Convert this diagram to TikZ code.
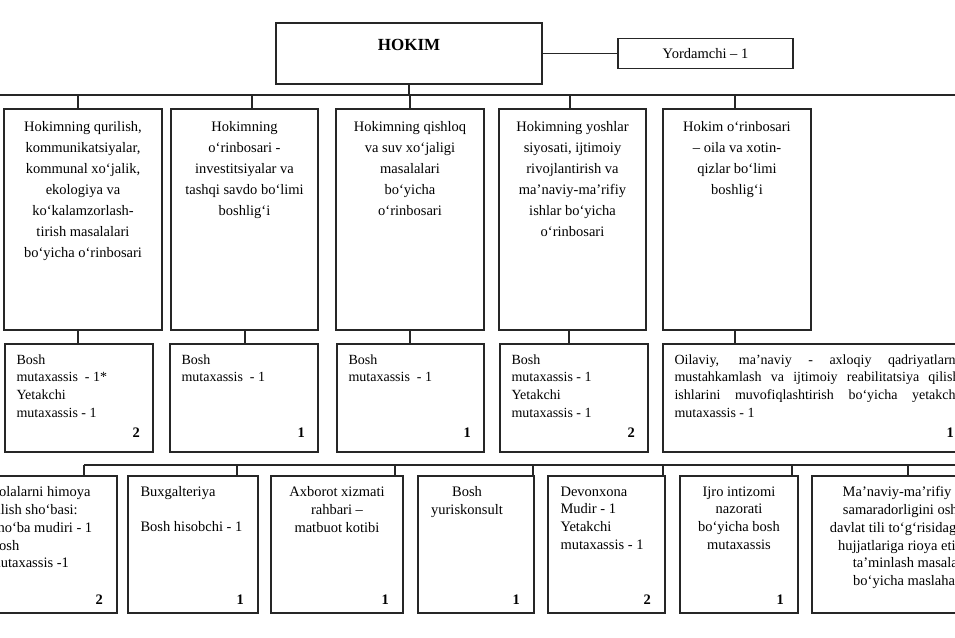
\documentclass[tikz,border=0pt]{standalone}
\usepackage{fontspec}
\setmainfont{Liberation Serif}
\usetikzlibrary{positioning}
\definecolor{lineGray}{RGB}{38,38,38}

\begin{document}
\begin{tikzpicture}[
    x=1pt, y=-1pt,
    box/.style={
        draw=lineGray,
        line width=1.2pt,
        outer sep=0pt
    },
    chief/.style={box, minimum width=266pt, minimum height=61pt},
    helper/.style={box, minimum width=175pt, minimum height=30pt,
        font=\fontsize{14.5}{17}\selectfont},
    deputy/.style={box, minimum width=#1, minimum height=221pt},
    staff/.style={box, minimum width=#1, minimum height=108pt},
    office/.style={box, minimum width=#1, minimum height=137pt},
    deptxt/.style={align=center, font=\fontsize{14.5}{21}\selectfont},
    stafftxt/.style={align=left, font=\fontsize{14}{17.7}\selectfont},
    offtxt/.style={align=center, font=\fontsize{14.5}{17.8}\selectfont},
    offtxtL/.style={align=left, font=\fontsize{14.5}{17.8}\selectfont},
    nr/.style={inner sep=0pt, font=\fontsize{14.5}{17}\selectfont\bfseries},
    link/.style={draw=lineGray, line width=1.2pt}
]
    \useasboundingbox (0,0) rectangle (955,637);
    \clip (0,0) rectangle (955,637);

    % ---------------------------------------------------------
    % TOP: HOKIM AND ASSISTANT
    % ---------------------------------------------------------
    \node[chief] (hokim) at (409,53.5) {};
    \node[below=13pt of hokim.north, font=\fontsize{17}{20}\selectfont\bfseries] (hokimT) {HOKIM};
    \node[helper, right=76pt of hokim] (yordamchi) {Yordamchi – 1};

    \coordinate (busW) at (-5,95);
    \coordinate (busE) at (965,95);

    % ---------------------------------------------------------
    % DEPUTIES
    % ---------------------------------------------------------
    \node[deputy=158pt] (qurilish) at (83,219.5) {};
    \node[deputy=147pt, right=9pt of qurilish] (investitsiya) {};
    \node[deputy=148pt, right=18pt of investitsiya] (qishloq) {};
    \node[deputy=147pt, right=15pt of qishloq] (yoshlar) {};
    \node[deputy=148pt, right=17pt of yoshlar] (oila) {};

    \node[deptxt, below=9pt of qurilish.north] (qurilishT) {Hokimning qurilish,\\kommunikatsiyalar,\\kommunal xo‘jalik,\\ekologiya va\\ko‘kalamzorlash-\\tirish masalalari\\bo‘yicha o‘rinbosari};
    \node[deptxt, below=9pt of investitsiya.north] (investitsiyaT) {Hokimning\\o‘rinbosari -\\investitsiyalar va\\tashqi savdo bo‘limi\\boshlig‘i};
    \node[deptxt, below=9pt of qishloq.north] (qishloqT) {Hokimning qishloq\\va suv xo‘jaligi\\masalalari\\bo‘yicha\\o‘rinbosari};
    \node[deptxt, below=9pt of yoshlar.north] (yoshlarT) {Hokimning yoshlar\\siyosati, ijtimoiy\\rivojlantirish va\\ma’naviy-ma’rifiy\\ishlar bo‘yicha\\o‘rinbosari};
    \node[deptxt, below=9pt of oila.north] (oilaT) {Hokim o‘rinbosari\\– oila va xotin-\\qizlar bo‘limi\\boshlig‘i};

    % ---------------------------------------------------------
    % STAFF UNDER THE DEPUTIES
    % ---------------------------------------------------------
    \node[staff=148pt] (qurilishS) at (79,398) {};
    \node[staff=148pt, right=17pt of qurilishS] (investitsiyaS) {};
    \node[staff=147pt, right=19pt of investitsiyaS] (qishloqS) {};
    \node[staff=148pt, right=16pt of qishloqS] (yoshlarS) {};
    \node[staff=305pt, right=15pt of yoshlarS] (oilaS) {};

    \node[stafftxt, below right=7pt and 8pt of qurilishS.north west] (qurilishST) {Bosh\\mutaxassis~ - 1*\\Yetakchi\\mutaxassis - 1};
    \node[stafftxt, below right=7pt and 8pt of investitsiyaS.north west] (investitsiyaST) {Bosh\\mutaxassis~ - 1};
    \node[stafftxt, below right=7pt and 8pt of qishloqS.north west] (qishloqST) {Bosh\\mutaxassis~ - 1};
    \node[stafftxt, below right=7pt and 8pt of yoshlarS.north west] (yoshlarST) {Bosh\\mutaxassis - 1\\Yetakchi\\mutaxassis - 1};
    \node[stafftxt, align=justify, text width=285pt, below right=7pt and 8pt of oilaS.north west] (oilaST) {\tolerance=9999 Oilaviy, ma’naviy - axloqiy qadriyatlarni\linebreak mustahkamlash va ijtimoiy reabilitatsiya qilish\linebreak ishlarini muvofiqlashtirish bo‘yicha yetakchi\linebreak mutaxassis - 1};

    \node[nr, above left=14pt and 13pt of qurilishS.south east] (qurilishSN) {2};
    \node[nr, above left=14pt and 13pt of investitsiyaS.south east] (investitsiyaSN) {1};
    \node[nr, above left=14pt and 13pt of qishloqS.south east] (qishloqSN) {1};
    \node[nr, above left=14pt and 13pt of yoshlarS.south east] (yoshlarSN) {2};
    \node[nr, above left=14pt and 14pt of oilaS.south east] (oilaSN) {1};

    % ---------------------------------------------------------
    % BOTTOM: OFFICES
    % ---------------------------------------------------------
    \node[office=140pt] (bolalar) at (47,544.5) {};
    \node[office=130pt, right=11pt of bolalar] (buxgalteriya) {};
    \node[office=132pt, right=13pt of buxgalteriya] (axborot) {};
    \node[office=116pt, right=15pt of axborot] (yuriskonsult) {};
    \node[office=117pt, right=14pt of yuriskonsult] (devonxona) {};
    \node[office=118pt, right=15pt of devonxona] (ijro) {};
    \node[office=206pt, right=14pt of ijro] (manaviyat) {};

    \node[offtxtL, below right=7pt and 9pt of bolalar.north west] (bolalarT) {Bolalarni himoya\\qilish sho‘basi:\\Sho‘ba mudiri - 1\\Bosh\\mutaxassis -1};
    \node[offtxtL, below right=7pt and 9pt of buxgalteriya.north west] (buxgalteriyaT) {Buxgalteriya\\[17.5pt]Bosh hisobchi - 1};
    \node[offtxt, below=7pt of axborot.north] (axborotT) {Axborot xizmati\\rahbari –\\matbuot kotibi};
    \node[offtxt, below=7pt of yuriskonsult.north, xshift=-9pt] (yuriskonsultT) {Bosh\\yuriskonsult};
    \node[offtxtL, below right=7pt and 9pt of devonxona.north west] (devonxonaT) {Devonxona\\Mudir - 1\\Yetakchi\\mutaxassis - 1};
    \node[offtxt, below=7pt of ijro.north] (ijroT) {Ijro intizomi\\nazorati\\bo‘yicha bosh\\mutaxassis};
    \node[offtxt, below=7pt of manaviyat.north] (manaviyatT) {Ma’naviy-ma’rifiy ishlar\\samaradorligini oshirish,\\davlat tili to‘g‘risidagi qonun\\hujjatlariga rioya etilishini\\ta’minlash masalalari\\bo‘yicha maslahatchi};

    \node[nr, above left=8pt and 14pt of bolalar.south east] (bolalarN) {2};
    \node[nr, above left=8pt and 14pt of buxgalteriya.south east] (buxgalteriyaN) {1};
    \node[nr, above left=8pt and 14pt of axborot.south east] (axborotN) {1};
    \node[nr, above left=8pt and 14pt of yuriskonsult.south east] (yuriskonsultN) {1};
    \node[nr, above left=8pt and 14pt of devonxona.south east] (devonxonaN) {2};
    \node[nr, above left=8pt and 14pt of ijro.south east] (ijroN) {1};

    \coordinate (lowW) at ([xshift=37pt, yshift=11pt]bolalar.north);

    % ---------------------------------------------------------
    % CONNECTORS
    % ---------------------------------------------------------
    \draw[link] (hokim.east |- yordamchi.west) -- (yordamchi.west);
    \draw[link] (hokim.south) -- (hokim.south |- busW);
    \draw[link] (busW) -- (busE);

    % bus to deputies, deputies to staff
    \foreach \n/\s in {qurilish/-5, investitsiya/7.5, qishloq/0, yoshlar/-2.5, oila/-2}
        \draw[link] ([xshift=\s pt]\n.north) -- ++(0,-14);
    \foreach \n/\s in {qurilish/-5, investitsiya/0.5, qishloq/0, yoshlar/-3.5, oila/-2}
        \draw[link] ([xshift=\s pt]\n.south) -- ++(0,14);

    % lower bus to offices
    \draw[link] (lowW) -- (lowW -| busE);
    \foreach \n/\s in {bolalar/37, buxgalteriya/44, axborot/58, yuriskonsult/57, devonxona/56.5, ijro/53, manaviyat/-7}
        \draw[link] ([xshift=\s pt]\n.north) -- ++(0,-11);

\end{tikzpicture}
\end{document}
